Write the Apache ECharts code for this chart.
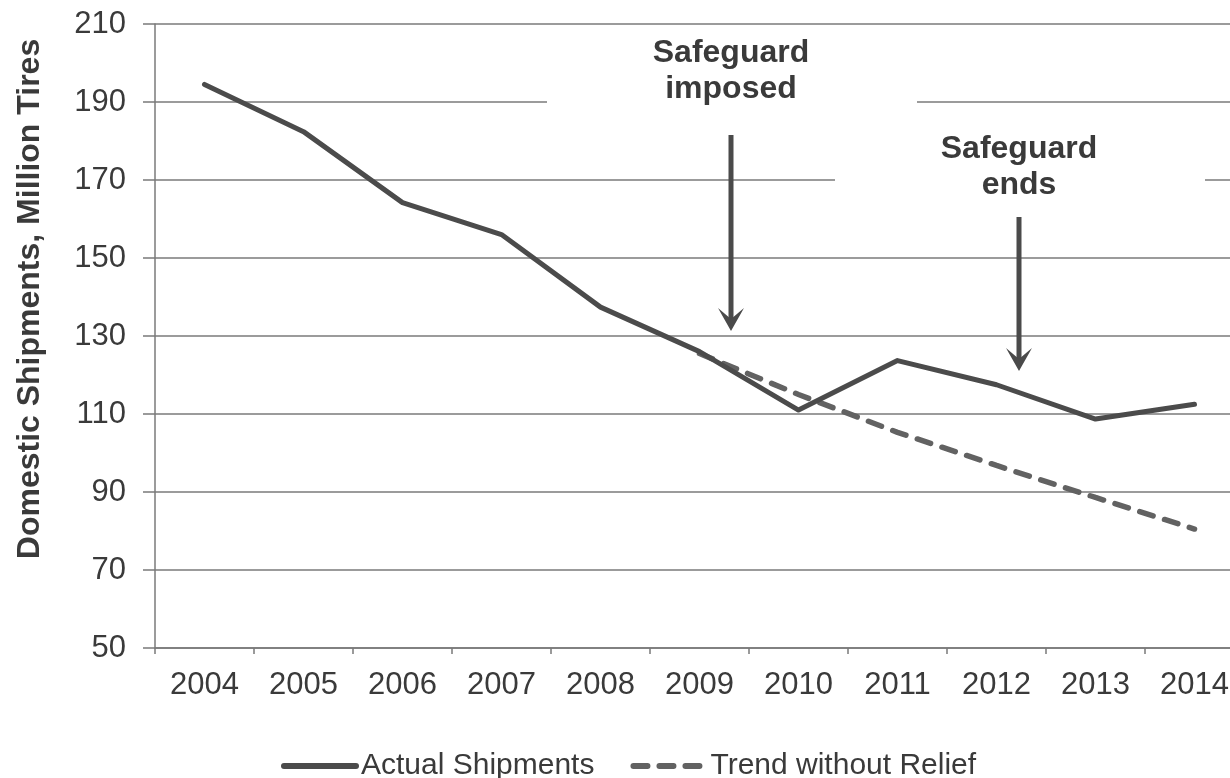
<!DOCTYPE html>
<html>
<head>
<meta charset="utf-8">
<title>Domestic Tire Shipments</title>
<script src="https://cdn.jsdelivr.net/npm/echarts@6/dist/echarts.min.js"></script>
<style>
  html, body { margin: 0; padding: 0; background: #ffffff; }
  #chart { width: 1230px; height: 778px; }
</style>
</head>
<body>
<div id="chart"></div>
<script>
// Years on the category axis
const years = ['2004', '2005', '2006', '2007', '2008', '2009', '2010', '2011', '2012', '2013', '2014'];

// Domestic shipments, million tires
const actualShipments = [194.5, 182.4, 164.2, 156.0, 137.4, 126.0, 111.0, 123.7, 117.5, 108.7, 112.5];

// Projected path had the pre-safeguard decline continued
const trendWithoutRelief = [null, null, null, null, null, 125.5, 115.0, 105.3, 96.8, 88.6, 80.5];

// Value axis range
const yMin = 50;
const yMax = 210;
const yStep = 20;

const FONT = '"Liberation Sans", Arial, sans-serif';
const TEXT = '#3a3a3a';
const GRIDLINE = '#7a7a7a';

const chart = echarts.init(document.getElementById('chart'), null, { renderer: 'canvas' });

// Callout: white backing box, two-line bold caption, downward arrow
function callout(box, cx, lines, arrowTop, arrowTip) {
  return [
    { type: 'rect', z: 5, silent: true,
      shape: box, style: { fill: '#ffffff' } },
    { type: 'text', z: 6, silent: true, x: cx, y: lines.y,
      style: { text: lines.text, font: 'bold 32px ' + FONT, fill: TEXT,
               align: 'center', verticalAlign: 'top', lineHeight: 36 } },
    { type: 'line', z: 6, silent: true,
      shape: { x1: cx, y1: arrowTop, x2: cx, y2: arrowTip - 8 },
      style: { stroke: '#4a4a4a', lineWidth: 5 } },
    { type: 'polygon', z: 6, silent: true,
      shape: { points: [[cx, arrowTip], [cx - 13, arrowTip - 23], [cx, arrowTip - 12], [cx + 13, arrowTip - 23]] },
      style: { fill: '#4a4a4a' } }
  ];
}

const option = {
  backgroundColor: '#ffffff',
  animation: false,
  textStyle: { fontFamily: FONT },
  grid: {
    left: 155, right: -14, top: 24, bottom: 130,
    containLabel: false, outerBoundsMode: 'none'
  },
  legend: {
    left: 276, top: 746,
    itemWidth: 72, itemHeight: 14, itemGap: 36,
    itemStyle: { opacity: 0 },
    lineStyle: { width: 6, cap: 'round' },
    textStyle: { fontSize: 30, color: TEXT, fontFamily: FONT },
    data: ['Actual Shipments', 'Trend without Relief']
  },
  xAxis: {
    type: 'category',
    data: years,
    boundaryGap: true,
    axisLine: { lineStyle: { color: GRIDLINE, width: 1.5 } },
    axisTick: { show: true, interval: 0, length: 6, lineStyle: { color: GRIDLINE, width: 1.5 } },
    axisLabel: { interval: 0, fontSize: 31, color: TEXT, margin: 22, fontFamily: FONT },
    splitLine: { show: false }
  },
  yAxis: {
    type: 'value',
    min: yMin, max: yMax, interval: yStep,
    axisLine: { show: true, lineStyle: { color: GRIDLINE, width: 1.5 } },
    axisTick: { show: true, length: 12, lineStyle: { color: GRIDLINE, width: 1.5 } },
    axisLabel: { fontSize: 31, color: TEXT, margin: 29, fontFamily: FONT },
    splitLine: { show: true, lineStyle: { color: GRIDLINE, width: 1.5 } }
  },
  series: [
    {
      name: 'Actual Shipments',
      type: 'line',
      data: actualShipments,
      symbol: 'none',
      z: 3,
      itemStyle: { color: '#4b4b4b' },
      lineStyle: { color: '#4b4b4b', width: 5, cap: 'round', join: 'round' }
    },
    {
      name: 'Trend without Relief',
      type: 'line',
      data: trendWithoutRelief,
      symbol: 'none',
      z: 2,
      itemStyle: { color: '#626262' },
      lineStyle: { color: '#626262', width: 5.5, type: [14, 12], cap: 'round' }
    }
  ],
  graphic: [
    // title of the value axis
    { type: 'text', silent: true, x: 30, y: 299, rotation: Math.PI / 2,
      style: { text: 'Domestic Shipments, Million Tires', font: 'bold 32px ' + FONT,
               fill: TEXT, align: 'center', verticalAlign: 'middle' } },
    ...callout({ x: 547, y: 32, width: 370, height: 90 }, 731,
               { text: 'Safeguard\nimposed', y: 35 }, 135, 331),
    ...callout({ x: 835, y: 124, width: 370, height: 90 }, 1019,
               { text: 'Safeguard\nends', y: 131 }, 217, 371)
  ]
};

chart.setOption(option);
</script>
</body>
</html>
